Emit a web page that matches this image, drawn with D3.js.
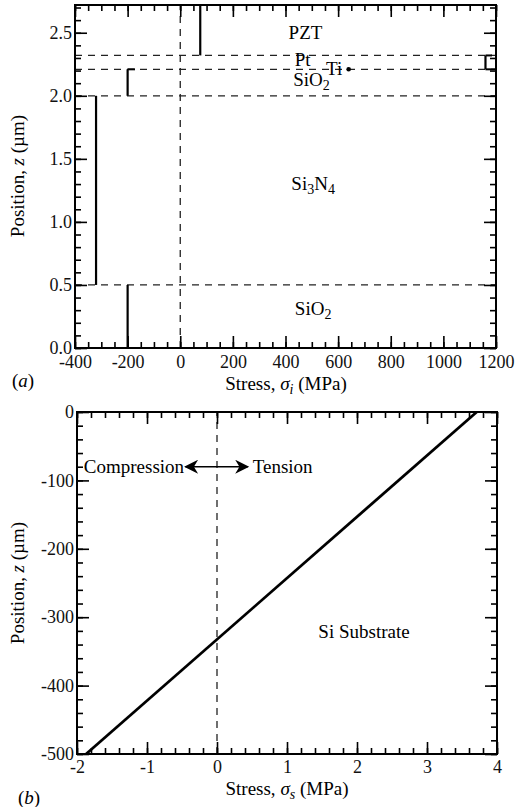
<!DOCTYPE html>
<html>
<head>
<meta charset="utf-8">
<script src="https://cdn.jsdelivr.net/npm/d3@7"></script>
<style>
  body { margin: 0; background: #fff; }
  svg { font-family: "Liberation Serif", "DejaVu Serif", serif; }
</style>
</head>
<body>
<div id="chart"></div>
<script>
// ---- panel (a): film stack stresses ----
const layerNames   = ["SiO2", "Si3N4", "SiO2", "Pt", "PZT"];
const layerBottoms = [0.0, 0.5, 2.0, 2.21, 2.32];
const layerTops    = [0.5, 2.0, 2.21, 2.32, 2.72];
const layerStress  = [-200, -320, -200, 1160, 76];
const interfaces   = [0.5, 2.0, 2.21, 2.32];
const tiStress = 640, tiZ = 2.21;

const xTicksA = [-400, -200, 0, 200, 400, 600, 800, 1000, 1200];
const yTicksA = [0.0, 0.5, 1.0, 1.5, 2.0, 2.5];

// ---- panel (b): Si substrate stress ----
const substrateStress = [-1.87, 3.71];
const substrateZ      = [-500, 0];
const xTicksB = [-2, -1, 0, 1, 2, 3, 4];
const yTicksB = [-500, -400, -300, -200, -100, 0];

const width = 515, height = 807;
const serif = "'Liberation Serif', 'DejaVu Serif', serif";

const svg = d3.select("#chart")
  .append("svg")
    .attr("width", width)
    .attr("height", height);

svg.append("defs").append("marker")
    .attr("id", "head")
    .attr("viewBox", "0 0 10 10")
    .attr("refX", 9).attr("refY", 5)
    .attr("markerUnits", "userSpaceOnUse")
    .attr("markerWidth", 20).attr("markerHeight", 14)
    .attr("orient", "auto-start-reverse")
  .append("path")
    .attr("d", "M0,0 L10,5 L0,10 L3,5 Z")
    .attr("fill", "#000");

// write text with digits as subscripts (SiO2, Si3N4)
const chemText = (sel, label) => {
  label.split(/(\d)/).filter(s => s !== "").forEach(part => {
    const isNum = /\d/.test(part);
    sel.append("tspan")
      .attr("font-size", isNum ? 14 : null)
      .attr("baseline-shift", isNum ? "-25%" : null)
      .text(part);
  });
};

const drawFrame = (g, x, y, xTicks, yTicks, xMinor, yMinor, xFmt, yFmt, xPad) => {
  const [x0, x1] = x.range();
  const [y0, y1] = y.range();
  const xAll = d3.range(x.domain()[0], x.domain()[1] + xMinor / 2, xMinor);
  const yAll = d3.range(y.domain()[0], y.domain()[1] + yMinor / 2, yMinor);

  const axes = [
    [d3.axisBottom(x), `translate(0,${y0})`, xAll, xTicks, xFmt, xPad],
    [d3.axisTop(x), `translate(0,${y1})`, xAll, xTicks, null, 0],
    [d3.axisLeft(y), `translate(${x0},0)`, yAll, yTicks, yFmt, 3],
    [d3.axisRight(y), `translate(${x1},0)`, yAll, yTicks, null, 0]
  ];
  axes.forEach(([axis, tr, minor, major, fmt, pad]) => {
    g.append("g").attr("transform", tr)
      .call(axis.tickValues(minor).tickSize(-6).tickFormat(""))
      .call(s => s.select(".domain").remove());
    g.append("g").attr("transform", tr)
      .call(axis.tickValues(major).tickSize(-12).tickPadding(pad)
                 .tickFormat(fmt ? fmt : ""))
      .call(s => s.select(".domain").remove());
  });
  g.selectAll(".tick line").attr("stroke", "#000").attr("stroke-width", 1.6);
  g.selectAll(".tick text")
    .style("font-family", serif)
    .style("font-size", "18px")
    .attr("fill", "#111");
  g.append("rect")
    .attr("x", x0).attr("y", y1)
    .attr("width", x1 - x0).attr("height", y0 - y1)
    .attr("fill", "none").attr("stroke", "#000").attr("stroke-width", 2);
};

const axisTitle = (g, xPos, yPos, sym, sub) => {
  const t = g.append("text")
    .attr("x", xPos).attr("y", yPos)
    .attr("text-anchor", "middle")
    .attr("font-size", 19);
  t.append("tspan").text("Stress, ");
  t.append("tspan").attr("font-style", "italic").text(sym);
  t.append("tspan").attr("font-style", "italic").attr("font-size", 14)
    .attr("baseline-shift", "-25%").text(sub);
  t.append("tspan").text(" (MPa)");
};

const positionTitle = (g, xPos, yPos) => {
  const t = g.append("text")
    .attr("transform", `translate(${xPos},${yPos}) rotate(-90)`)
    .attr("text-anchor", "middle")
    .attr("font-size", 19);
  t.append("tspan").text("Position, ");
  t.append("tspan").attr("font-style", "italic").text("z");
  t.append("tspan").text(" (\u00b5m)");
};

// ================= panel (a) =================
const gA = svg.append("g");
const xA = d3.scaleLinear().domain([-400, 1200]).range([75, 496]);
const yA = d3.scaleLinear().domain([0, 2.72]).range([348, 5]);

gA.selectAll(".iface")
  .data(interfaces)
  .join("line")
    .attr("class", "iface")
    .attr("x1", xA(-400)).attr("x2", xA(1200))
    .attr("y1", d => yA(d)).attr("y2", d => yA(d))
    .attr("stroke", "#222").attr("stroke-width", 1.3)
    .attr("stroke-dasharray", "7,6");

gA.append("line")
  .attr("x1", xA(0)).attr("x2", xA(0))
  .attr("y1", yA(0)).attr("y2", yA(2.72))
  .attr("stroke", "#222").attr("stroke-width", 1.3)
  .attr("stroke-dasharray", "7,6");

gA.selectAll(".layer")
  .data(layerNames.map((n, i) => ({ name: n, s: layerStress[i], z0: layerBottoms[i], z1: layerTops[i] })))
  .join("line")
    .attr("class", "layer")
    .attr("x1", d => xA(d.s)).attr("x2", d => xA(d.s))
    .attr("y1", d => yA(d.z0)).attr("y2", d => yA(d.z1))
    .attr("stroke", "#000").attr("stroke-width", 2.2);

// small steps at the thin-layer boundaries
const steps = [
  [layerStress[2], -172, layerTops[2]],
  [layerStress[3], 1185, layerTops[3]],
  [layerStress[3], 1200, layerBottoms[3]]
];
gA.selectAll(".step")
  .data(steps)
  .join("line")
    .attr("class", "step")
    .attr("x1", d => xA(d[0])).attr("x2", d => xA(d[1]))
    .attr("y1", d => yA(d[2])).attr("y2", d => yA(d[2]))
    .attr("stroke", "#000").attr("stroke-width", 2);

gA.append("circle")
  .attr("cx", xA(tiStress)).attr("cy", yA(tiZ))
  .attr("r", 2.3).attr("fill", "#000");

const labelsA = [
  { text: "PZT",   s: 476, z: 2.45 },
  { text: "Pt",    s: 465, z: 2.24 },
  { text: "Ti",    s: 585, z: 2.165 },
  { text: "SiO2",  s: 499, z: 2.08 },
  { text: "Si3N4", s: 505, z: 1.25 },
  { text: "SiO2",  s: 505, z: 0.26 }
];
labelsA.forEach(l => {
  const t = gA.append("text")
    .attr("x", xA(l.s)).attr("y", yA(l.z))
    .attr("text-anchor", "middle")
    .attr("font-size", 19);
  chemText(t, l.text);
});

drawFrame(gA, xA, yA, xTicksA, yTicksA, 50, 0.1,
  d => String(d), d => d.toFixed(1), 7);

axisTitle(gA, 286, 390, "\u03c3", "i");
positionTitle(gA, 24, 176);
gA.append("text").attr("x", 12).attr("y", 387).attr("font-size", 19)
  .call(t => {
    t.append("tspan").text("(");
    t.append("tspan").attr("font-style", "italic").text("a");
    t.append("tspan").text(")");
  });

// ================= panel (b) =================
const gB = svg.append("g");
const xB = d3.scaleLinear().domain([-2, 4]).range([77, 497]);
const yB = d3.scaleLinear().domain([-500, 0]).range([754, 412]);

gB.append("line")
  .attr("x1", xB(0)).attr("x2", xB(0))
  .attr("y1", yB(-500)).attr("y2", yB(0))
  .attr("stroke", "#222").attr("stroke-width", 1.3)
  .attr("stroke-dasharray", "7,6");

const lineB = d3.line().x(d => xB(d[0])).y(d => yB(d[1]));
gB.append("path")
  .datum(d3.zip(substrateStress, substrateZ))
  .attr("d", lineB)
  .attr("fill", "none").attr("stroke", "#000").attr("stroke-width", 2.8);

// compression / tension arrow
gB.append("line")
  .attr("x1", xB(-0.45)).attr("x2", xB(0.44))
  .attr("y1", yB(-80)).attr("y2", yB(-80))
  .attr("stroke", "#000").attr("stroke-width", 1.4)
  .attr("marker-start", "url(#head)")
  .attr("marker-end", "url(#head)");

gB.append("text")
  .attr("x", xB(-0.47)).attr("y", yB(-80) + 6)
  .attr("text-anchor", "end").attr("font-size", 19)
  .text("Compression");
gB.append("text")
  .attr("x", xB(0.51)).attr("y", yB(-80) + 6)
  .attr("font-size", 19)
  .text("Tension");
gB.append("text")
  .attr("x", xB(2.1)).attr("y", yB(-330))
  .attr("text-anchor", "middle").attr("font-size", 19)
  .text("Si Substrate");

drawFrame(gB, xB, yB, xTicksB, yTicksB, 0.2, 20,
  d => String(d), d => String(d), 6);

axisTitle(gB, 287, 795, "\u03c3", "s");
positionTitle(gB, 24, 583);
gB.append("text").attr("x", 18).attr("y", 804).attr("font-size", 19)
  .call(t => {
    t.append("tspan").text("(");
    t.append("tspan").attr("font-style", "italic").text("b");
    t.append("tspan").text(")");
  });
</script>
</body>
</html>
